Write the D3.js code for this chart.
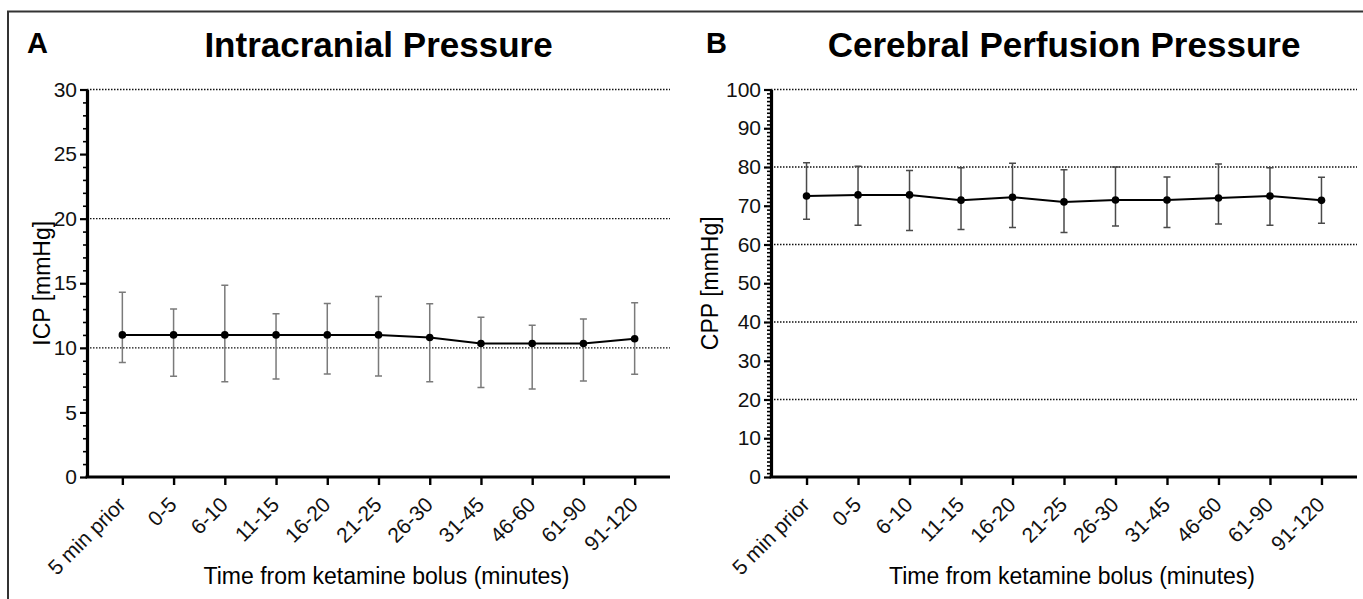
<!DOCTYPE html>
<html>
<head>
<meta charset="utf-8">
<script src="https://cdn.jsdelivr.net/npm/d3@7"></script>
<style>
  body { margin: 0; background: #fff; }
  svg { display: block; }
  .domain { stroke: #000; }
</style>
</head>
<body>
<svg id="chart"></svg>
<script>
const CATEGORIES = ["5 min prior", "0-5", "6-10", "11-15", "16-20", "21-25",
                    "26-30", "31-45", "46-60", "61-90", "91-120"];

// Intracranial pressure (mean, lower and upper whisker)
const ICP_MEAN = [11.0, 11.0, 11.0, 11.0, 11.0, 11.0, 10.8, 10.34, 10.34, 10.34, 10.7];
const ICP_LOW  = [8.86, 7.8, 7.38, 7.59, 7.98, 7.82, 7.38, 6.92, 6.81, 7.44, 7.95];
const ICP_HIGH = [14.3, 13.0, 14.85, 12.64, 13.44, 13.97, 13.41, 12.36, 11.74, 12.23, 13.49];

// Cerebral perfusion pressure
const CPP_MEAN = [72.5, 72.8, 72.8, 71.45, 72.2, 71.0, 71.5, 71.5, 72.0, 72.5, 71.4];
const CPP_LOW  = [66.5, 65.0, 63.6, 63.9, 64.4, 63.1, 64.8, 64.4, 65.3, 65.0, 65.5];
const CPP_HIGH = [81.1, 80.2, 79.1, 79.8, 81.0, 79.3, 80.0, 77.4, 80.8, 79.8, 77.35];

const ICP_TICKS = [0, 5, 10, 15, 20, 25, 30];
const ICP_GRID  = [10, 20, 30];
const CPP_TICKS = [0, 10, 20, 30, 40, 50, 60, 70, 80, 90, 100];
const CPP_GRID  = [20, 40, 60, 80, 100];

const SVG_W = 1363;
const SVG_H = 599;
const FONT  = "'Liberation Sans', Arial, Helvetica, sans-serif";
const Y_BOTTOM = 477;
const Y_TOP    = 89.5;

const svg = d3.select("#chart")
  .attr("width", SVG_W)
  .attr("height", SVG_H)
  .style("font-family", FONT);

svg.append("rect").attr("width", SVG_W).attr("height", SVG_H).attr("fill", "#fff");

// outer frame (top + left)
svg.append("path")
  .attr("d", `M8,${SVG_H} V11.5 H${SVG_W}`)
  .attr("fill", "none")
  .attr("stroke", "#333")
  .attr("stroke-width", 2);

const panels = [
  {
    letter: "A", letterX: 27, title: "Intracranial Pressure", yLabel: "ICP [mmHg]",
    x0: 87, x1: 670, yLabelX: 50,
    max: 30, ticks: ICP_TICKS, minorStep: 1, grid: ICP_GRID,
    mean: ICP_MEAN, low: ICP_LOW, high: ICP_HIGH, errColor: "#7a7a7a"
  },
  {
    letter: "B", letterX: 706, title: "Cerebral Perfusion Pressure", yLabel: "CPP [mmHg]",
    x0: 771, x1: 1357, yLabelX: 718,
    max: 100, ticks: CPP_TICKS, minorStep: 1, grid: CPP_GRID,
    mean: CPP_MEAN, low: CPP_LOW, high: CPP_HIGH, errColor: "#4a4a4a"
  }
];

panels.forEach(drawPanel);

function drawPanel(p) {
  const x = d3.scalePoint().domain(CATEGORIES).range([p.x0, p.x1]).padding(0.69);
  const y = d3.scaleLinear().domain([0, p.max]).range([Y_BOTTOM, Y_TOP]);
  const g = svg.append("g");

  // panel letter + title
  g.append("text")
    .attr("x", p.letterX).attr("y", 53)
    .attr("font-size", 29).attr("font-weight", "bold")
    .text(p.letter);
  g.append("text")
    .attr("x", (p.x0 + p.x1) / 2).attr("y", 57)
    .attr("text-anchor", "middle")
    .attr("font-size", 35).attr("font-weight", "bold")
    .text(p.title);

  // dotted gridlines
  g.append("g").selectAll("line")
    .data(p.grid)
    .enter().append("line")
    .attr("x1", p.x0).attr("x2", p.x1)
    .attr("y1", (d) => y(d)).attr("y2", (d) => y(d))
    .attr("stroke", "#111")
    .attr("stroke-width", 1.3)
    .attr("stroke-dasharray", "1.5,1.5");

  // minor y ticks
  const minor = d3.range(0, p.max + 0.001, p.minorStep).filter((v) => !p.ticks.includes(v));
  g.append("g")
    .attr("transform", `translate(${p.x0},0)`)
    .call(d3.axisLeft(y).tickValues(minor).tickSize(4).tickFormat(""))
    .call((s) => s.select(".domain").remove())
    .call((s) => s.selectAll(".tick line").attr("stroke-width", 1.6));

  // major y ticks + labels
  g.append("g")
    .attr("transform", `translate(${p.x0},0)`)
    .call(d3.axisLeft(y).tickValues(p.ticks).tickSize(7).tickSizeOuter(0).tickPadding(3))
    .call((s) => s.select(".domain").attr("stroke-width", 3.2))
    .call((s) => s.selectAll(".tick line").attr("stroke-width", 2.2))
    .call((s) => s.selectAll(".tick text")
      .attr("font-size", 21).attr("font-family", FONT).attr("fill", "#111"));

  // x axis
  g.append("g")
    .attr("transform", `translate(0,${Y_BOTTOM})`)
    .call(d3.axisBottom(x).tickSize(8).tickSizeOuter(0))
    .call((s) => s.select(".domain")
      .attr("d", `M${p.x0 - 1.5},0H${p.x1}`)
      .attr("stroke-width", 3.2))
    .call((s) => s.selectAll(".tick line").attr("stroke-width", 2.4))
    .call((s) => s.selectAll(".tick text")
      .attr("font-size", 21).attr("font-family", FONT).attr("fill", "#111")
      .attr("text-anchor", "end")
      .attr("x", 0).attr("y", 0).attr("dy", 0)
      .attr("transform", "translate(4,29) rotate(-45)"));

  // axis titles
  g.append("text")
    .attr("transform", `translate(${p.yLabelX},${(Y_BOTTOM + Y_TOP) / 2}) rotate(-90)`)
    .attr("text-anchor", "middle")
    .attr("font-size", 23)
    .text(p.yLabel);
  g.append("text")
    .attr("x", (p.x0 + p.x1) / 2 + 8).attr("y", 584)
    .attr("text-anchor", "middle")
    .attr("font-size", 23)
    .text("Time from ketamine bolus (minutes)");

  const rows = CATEGORIES.map((c, i) => ({ c, m: p.mean[i], lo: p.low[i], hi: p.high[i] }));

  // error bars
  const err = g.append("g")
    .attr("stroke", p.errColor)
    .attr("stroke-width", 1.5)
    .attr("fill", "none");
  err.selectAll("path")
    .data(rows)
    .enter().append("path")
    .attr("d", (d) => {
      const cx = x(d.c), w = 3.5;
      return `M${cx},${y(d.lo)}V${y(d.hi)}` +
             `M${cx - w},${y(d.hi)}H${cx + w}` +
             `M${cx - w},${y(d.lo)}H${cx + w}`;
    });

  // mean line + dots
  g.append("path")
    .datum(rows)
    .attr("fill", "none")
    .attr("stroke", "#000")
    .attr("stroke-width", 2)
    .attr("d", d3.line().x((d) => x(d.c)).y((d) => y(d.m)));

  g.append("g").selectAll("circle")
    .data(rows)
    .enter().append("circle")
    .attr("cx", (d) => x(d.c))
    .attr("cy", (d) => y(d.m))
    .attr("r", 3.8)
    .attr("fill", "#000");
}
</script>
</body>
</html>
